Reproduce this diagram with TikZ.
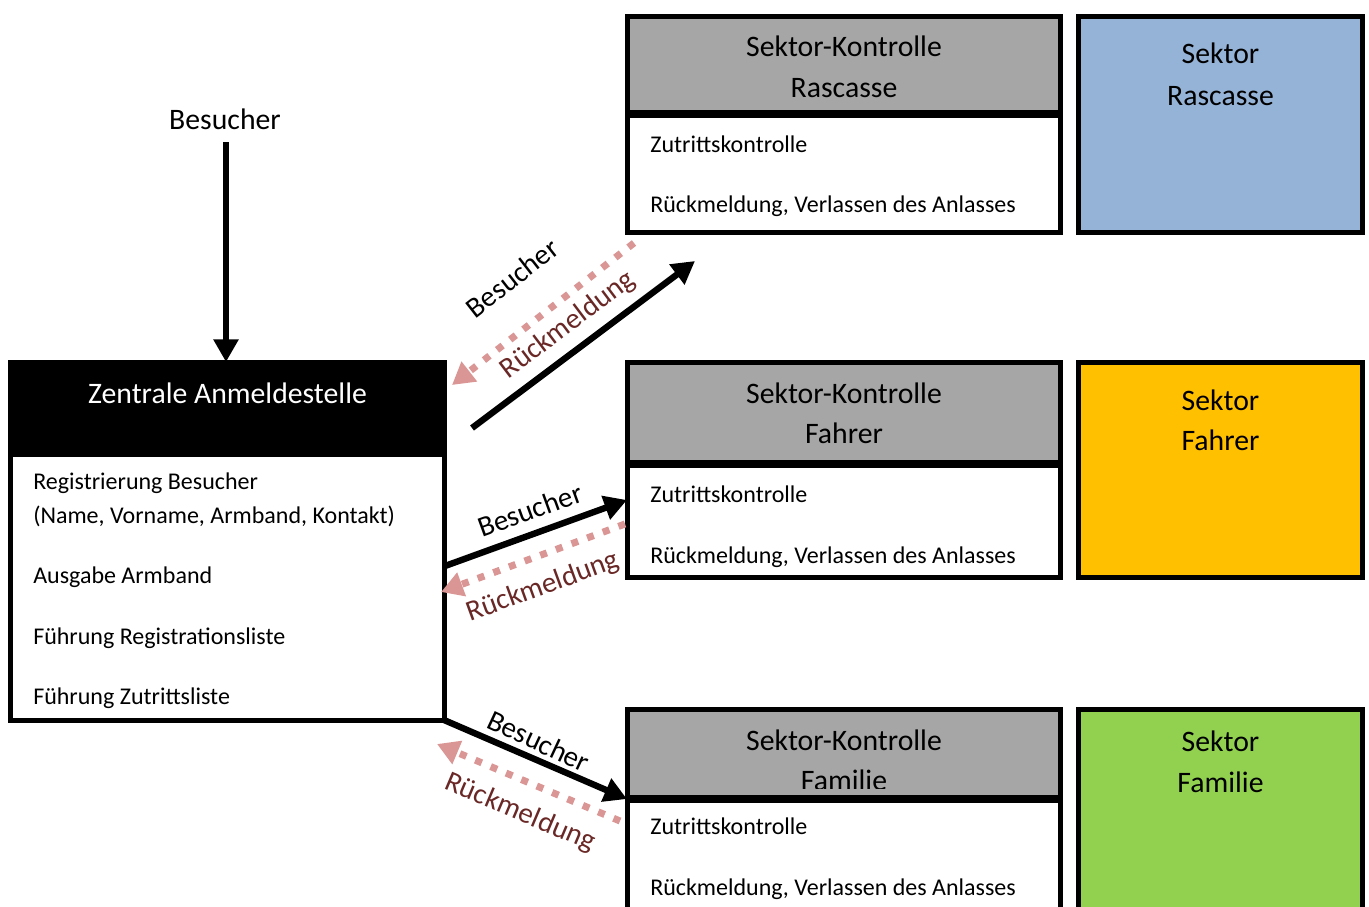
\documentclass[tikz,border=0pt]{standalone}
\usepackage{fontspec}
\setmainfont{Carlito}
\usetikzlibrary{arrows.meta}
\definecolor{hdrgray}{RGB}{166,166,166}
\definecolor{secblue}{RGB}{149,179,215}
\definecolor{secorange}{RGB}{255,192,0}
\definecolor{secgreen}{RGB}{146,208,80}
\definecolor{pinkarrow}{RGB}{217,150,148}
\definecolor{darkred}{RGB}{105,40,38}
\tikzset{
  box/.style={draw=black, line width=3.4pt, inner sep=0pt, outer sep=0pt},
  ttl/.style={font=\fontsize{22.3pt}{26pt}\selectfont, inner sep=0pt, anchor=base},
  item/.style={font=\fontsize{18pt}{21pt}\selectfont, inner sep=0pt, anchor=base west},
  lbl/.style={font=\fontsize{21.75pt}{25pt}\selectfont, inner sep=0pt},
  fwd/.style={draw=black, line width=4.8pt, -{Triangle[length=17pt,width=18pt]}},
  back/.style={draw=pinkarrow, line width=5.25pt, dash pattern=on 5.25pt off 7.25pt, -{Triangle[length=16.5pt,width=18pt]}}
}
\begin{document}
\begin{tikzpicture}[x=0.75pt,y=-0.75pt]
\useasboundingbox (0,0) rectangle (1369,906);
\clip (0,0) rectangle (1369,906);

% ---- Sektor-Kontrolle Rascasse
\node[box, fill=hdrgray, minimum width=433*0.75pt, minimum height=95.5*0.75pt] (rh) at (844,64.25) {};
\node[box, fill=white, minimum width=433*0.75pt, minimum height=116.5*0.75pt] (rb) at (844,174.25) {};
\node[ttl] (rht1) at (844,57) {Sektor-Kontrolle};
\node[ttl] (rht2) at (844,98) {Rascasse};
\node[item] (rbt1) at (650,152) {Zutrittskontrolle};
\node[item] (rbt2) at (650,212) {Rückmeldung, Verlassen des Anlasses};

% ---- Sektor-Kontrolle Fahrer
\node[box, fill=hdrgray, minimum width=433*0.75pt, minimum height=99.5*0.75pt] (fh) at (844,412.25) {};
\node[box, fill=white, minimum width=433*0.75pt, minimum height=111.5*0.75pt] (fb) at (844,521.75) {};
\node[ttl] (fht1) at (844,403) {Sektor-Kontrolle};
\node[ttl] (fht2) at (844,443) {Fahrer};
\node[item] (fbt1) at (650,502) {Zutrittskontrolle};
\node[item] (fbt2) at (650,563) {Rückmeldung, Verlassen des Anlasses};

% ---- Sektor-Kontrolle Familie
\node[box, fill=hdrgray, minimum width=433*0.75pt, minimum height=87.5*0.75pt] (mh) at (844,753.25) {};
\node[box, fill=white, minimum width=433*0.75pt, minimum height=159*0.75pt] (mb) at (844,880.5) {};
\node[ttl] (mht1) at (844,750) {Sektor-Kontrolle};
\begin{scope}
\clip (630,760) rectangle (1058,788);
\node[ttl] (mht2) at (844,790) {Familie};
\end{scope}
\node[item] (mbt1) at (650,834) {Zutrittskontrolle};
\node[item] (mbt2) at (650,895) {Rückmeldung, Verlassen des Anlasses};

% ---- Sektoren
\node[box, fill=secblue, minimum width=284*0.75pt, minimum height=216*0.75pt] (sr) at (1220.5,124.5) {};
\node[ttl] (srt1) at (1220.5,64) {Sektor};
\node[ttl] (srt2) at (1220.5,105) {Rascasse};
\node[box, fill=secorange, minimum width=284*0.75pt, minimum height=215*0.75pt] (sf) at (1220.5,470) {};
\node[ttl] (sft1) at (1220.5,410) {Sektor};
\node[ttl] (sft2) at (1220.5,450) {Fahrer};
\node[box, fill=secgreen, minimum width=284*0.75pt, minimum height=250.5*0.75pt] (sm) at (1220.5,834.75) {};
\node[ttl] (smt1) at (1220.5,751) {Sektor};
\node[ttl] (smt2) at (1220.5,792) {Familie};

% ---- Zentrale Anmeldestelle
\node[box, fill=black, minimum width=434*0.75pt, minimum height=93*0.75pt] (zh) at (227.5,408.5) {};
\node[box, fill=white, minimum width=434*0.75pt, minimum height=265.5*0.75pt] (zb) at (227.5,587.75) {};
\node[ttl, text=white] (zht) at (227.5,403) {Zentrale Anmeldestelle};
\node[item] (zbt1) at (33,489) {Registrierung Besucher};
\node[item] (zbt2) at (33,523) {(Name, Vorname, Armband, Kontakt)};
\node[item] (zbt3) at (33,583) {Ausgabe Armband};
\node[item] (zbt4) at (33,644) {Führung Registrationsliste};
\node[item] (zbt5) at (33,704) {Führung Zutrittsliste};

% ---- Besucher input
\node[ttl] (besucher) at (225,129) {Besucher};
\coordinate (bs) at (226,142);
\draw[fwd] (bs) -- (zh.north -| bs);

% ---- connectors Rascasse
\coordinate (r1s) at (472,428);
\coordinate (r1e) at (695,261);
\coordinate (r2s) at (634,243);
\coordinate (r2e) at (452,385);
\draw[back] (r2s) -- (r2e);
\draw[fwd] (r1s) -- (r1e);
\node[lbl, rotate=38] (rl1) at (512,278) {Besucher};
\node[lbl, rotate=37, text=darkred] (rl2) at (568,325) {Rückmeldung};

% ---- connectors Fahrer
\coordinate (f1s) at (445,566);
\coordinate (f1e) at (627,500);
\coordinate (f2s) at (625,524);
\coordinate (f2e) at (441,592);
\draw[back] (f2s) -- (f2e);
\draw[fwd] (f1s) -- (f1e);
\node[lbl, rotate=20] (fl1) at (530,510) {Besucher};
\node[lbl, rotate=20, text=darkred] (fl2) at (543,587) {Rückmeldung};

% ---- connectors Familie
\coordinate (m1s) at (444,720);
\coordinate (m1e) at (627,799);
\coordinate (m2s) at (620,821);
\coordinate (m2e) at (437,744);
\draw[back] (m2s) -- (m2e);
\draw[fwd] (m1s) -- (m1e);
\node[lbl, rotate=-25] (ml1) at (539,741) {Besucher};
\node[lbl, rotate=-23, text=darkred] (ml2) at (520,813) {Rückmeldung};
\end{tikzpicture}
\end{document}
